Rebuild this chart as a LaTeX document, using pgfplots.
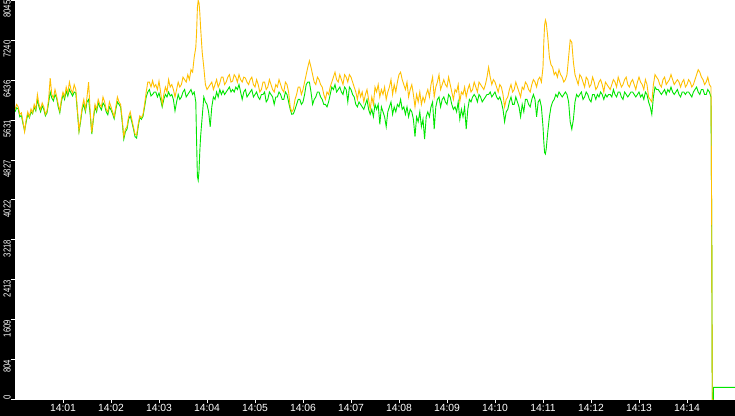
\documentclass[border=0pt]{standalone}
\usepackage{fontspec}
\setmainfont{Liberation Sans}
\newfontfamily\narrowfont[FakeStretch=0.76]{Liberation Sans}
\usepackage{pgfplots}
\usepackage{pgfplotstable}
\pgfplotsset{compat=1.18}
\definecolor{yel}{RGB}{255,192,0}
\definecolor{grn}{RGB}{0,230,0}

% t = seconds after 14:00, y = yellow series, g = green series
\pgfplotstableread{
t y g
0 5850 5800
2 5950 5880
4 5900 5860
6 5750 5700
8 5780 5730
10 5600 5560
12 5400 5420
14 5650 5600
16 5800 5750
18 5700 5680
20 5860 5800
22 5780 5760
24 5950 5900
26 5850 5820
28 6150 6050
30 5950 5900
32 5850 5800
34 5980 5920
36 5900 5850
38 5750 5720
40 5820 5780
42 6050 5980
44 6480 6200
46 6150 6080
48 6080 6020
50 6250 6150
52 6120 6080
54 5950 5900
56 5820 5780
58 6050 6000
60 6200 6150
62 6100 6050
64 6300 6220
66 6180 6120
68 6400 6250
70 6250 6180
72 6180 6120
74 6350 6200
76 6250 6180
78 5850 5800
80 5420 5400
82 5650 5600
84 5900 5850
86 6050 5950
88 5850 5800
90 6100 6000
92 6400 6050
94 5800 5750
96 5380 5350
98 5700 5650
100 5950 5900
102 5850 5800
104 6050 5980
106 5950 5900
108 5900 5840
110 6100 5980
112 6000 5930
114 5850 5800
116 5800 5740
118 6000 5900
120 5900 5840
122 5800 5760
124 5700 5660
126 5900 5850
128 6100 6000
130 6000 5950
132 5950 5900
134 5650 5600
136 5300 5250
138 5450 5400
140 5500 5450
142 5700 5650
144 5800 5720
146 5650 5600
148 5500 5460
150 5350 5300
152 5330 5270
154 5550 5500
156 5720 5690
158 5680 5650
160 5750 5710
162 5950 5900
164 6200 6100
166 6400 6200
168 6400 6250
170 6300 6120
172 6430 6150
174 6300 6200
176 6350 6200
178 6250 6100
180 6420 6180
182 6200 6050
184 5950 5900
186 6150 6050
188 6300 6150
190 6200 6100
192 6450 6200
194 6300 6120
196 6350 6150
198 6250 6050
200 6100 5820
202 6250 6000
204 6400 6150
206 6300 6050
208 6350 6100
210 6500 6200
212 6450 6250
214 6400 6100
216 6550 6150
218 6450 6200
220 6650 6250
222 6600 6150
224 6900 6200
226 7100 6000
227 7400 5200
228 7900 4500
229 8045 4420
230 8000 4600
231 7800 5000
232 7500 5300
234 7000 5700
236 6700 6100
238 6350 6000
240 6250 5950
242 6300 5800
244 6350 5500
246 6400 5900
248 6250 6100
250 6350 6050
252 6450 6200
254 6300 6100
256 6380 6250
258 6500 6150
260 6500 6230
262 6350 6150
264 6400 6200
266 6500 6250
268 6550 6300
270 6400 6200
272 6420 6250
274 6550 6200
276 6500 6300
278 6400 6250
280 6550 6350
282 6450 6200
284 6400 6050
286 6500 6200
288 6480 6250
290 6400 6100
292 6350 6150
294 6450 6200
296 6500 6250
298 6350 6100
300 6300 6150
302 6450 6200
304 6350 6100
306 6200 6050
308 6250 6150
310 6400 6150
312 6400 6200
314 6250 6000
316 6300 6050
318 6450 6200
320 6350 6150
322 6250 6100
324 6200 5950
326 6350 6100
328 6300 6100
330 6450 6200
332 6350 6150
334 6250 6050
336 6200 6050
338 6400 6200
340 6350 6150
342 6200 6000
344 5900 5850
346 5800 5750
348 5850 5760
350 6050 5850
352 6150 5950
354 6300 6050
356 6300 6050
358 6150 5950
360 6250 6000
362 6400 6150
364 6550 6350
366 6700 6400
368 6830 6400
370 6700 6200
372 6550 5950
374 6400 6050
376 6350 6100
378 6500 6200
380 6450 6200
382 6350 6100
384 6300 6050
386 6150 5950
388 6050 5950
390 6200 5900
392 6150 6000
394 6300 6150
396 6400 6300
398 6500 6250
400 6600 6350
402 6450 6200
404 6400 6250
406 6550 6300
408 6450 6200
410 6350 6150
412 6550 6300
414 6500 6250
416 6400 6000
418 6550 6300
420 6500 6250
422 6400 6150
424 6300 6100
426 6200 5950
428 6050 5900
430 6250 6000
432 6100 5950
434 6200 5900
436 6000 5850
438 6150 5950
440 6250 6050
442 6050 5850
444 5850 5750
446 6100 5850
448 5950 5700
450 6300 5950
452 6200 5850
454 6350 5950
456 6100 5550
458 6250 5900
460 6150 5800
462 6300 5700
464 6050 5500
466 6200 5800
468 6300 5900
470 6450 6000
472 6150 5750
474 6350 5900
476 6200 5800
478 6400 5950
480 6550 5900
482 6600 6050
484 6450 5850
486 6350 5900
488 6250 5750
490 6400 5900
492 6100 5700
494 6250 5850
496 6350 5800
498 6150 5650
500 5900 5300
502 6150 5700
504 6000 5600
506 6200 5800
508 5950 5500
510 6100 5650
512 6000 5250
514 6150 5700
516 6250 5800
518 6100 5700
520 6350 5900
522 6500 6000
524 6100 5450
526 6300 5900
528 6400 6050
530 6550 6100
532 6250 5900
534 6350 6050
536 6450 6100
538 6350 6000
540 6300 5950
542 6500 6150
544 6350 6100
546 6200 5950
548 6050 5850
550 6250 5900
552 6200 5800
554 6350 6000
556 6000 5650
558 6200 5850
560 6150 5700
562 6300 5900
564 6100 5450
566 6250 5850
568 6350 6050
570 6200 6000
572 6250 6100
574 6400 6150
576 6300 6100
578 6200 6000
580 6400 6150
582 6350 6100
584 6300 6000
586 6250 6050
588 6350 6100
590 6500 6150
592 6700 6150
594 6500 6200
596 6350 6100
598 6450 6150
600 6400 6200
602 6300 6100
604 6200 6050
606 6350 6100
608 6300 6000
610 6150 5850
612 5900 5600
614 6050 5800
616 6100 5850
618 6250 6000
620 6350 6100
622 6200 5950
624 6250 5950
626 6400 6100
628 6300 6000
630 6200 5900
632 6100 5700
634 6300 5950
636 6250 5800
638 6400 6050
640 6350 6050
642 6250 5950
644 6200 5900
646 6350 6050
648 6450 6150
650 6400 6050
652 6300 5700
654 6450 6000
656 6500 6050
658 6400 5900
660 6700 5500
661 7200 5200
662 7550 4980
663 7650 4950
664 7600 5050
666 7300 5400
668 6900 5700
670 6750 5900
672 6700 6000
674 6550 6050
676 6600 6150
678 6500 6100
680 6650 6200
682 6550 6150
684 6500 6100
686 6400 6150
688 6450 6200
690 6550 6150
692 6900 6000
694 7250 5600
696 7200 5450
698 6800 5650
700 6550 6000
702 6450 6150
704 6350 6100
706 6550 6150
708 6500 6200
710 6400 6050
712 6300 6100
714 6500 6200
716 6450 6150
718 6300 6050
720 6350 6000
722 6500 6150
724 6400 6150
726 6250 6050
728 6300 6150
730 6400 6100
732 6450 6200
734 6350 6150
736 6200 6050
738 6400 6150
740 6350 6100
742 6300 6150
744 6250 6150
746 6350 6100
748 6450 6250
750 6400 6150
752 6300 6100
754 6500 6200
756 6400 6200
758 6300 6100
760 6350 6050
762 6450 6200
764 6500 6150
766 6350 6100
768 6300 6150
770 6400 6200
772 6450 6200
774 6350 6150
776 6250 6100
778 6400 6150
780 6500 6200
782 6400 6100
784 6350 6150
786 6250 6050
788 6450 6200
790 6350 6150
792 6100 6000
794 6050 5900
796 6000 5750
798 6350 6100
800 6550 6300
802 6500 6250
804 6450 6250
806 6350 6200
808 6300 6150
810 6450 6200
812 6500 6250
814 6350 6150
816 6400 6250
818 6450 6200
820 6550 6300
822 6450 6200
824 6350 6150
826 6400 6200
828 6450 6250
830 6400 6150
832 6300 6100
834 6400 6200
836 6450 6200
838 6300 6150
840 6350 6200
842 6450 6200
844 6400 6150
846 6300 6100
848 6350 6200
850 6450 6250
852 6550 6300
854 6650 6200
856 6600 6150
858 6500 6250
860 6450 6250
862 6350 6150
864 6400 6150
866 6500 6250
868 6350 6200
870 6300 6100
871 3100 3100
871.6 0 0
873 0 0
873.1 nan 245
900 nan 245
}\rate

\begin{document}
\begin{tikzpicture}
\fill[black] (-15bp,-16bp) rectangle (720bp,399bp);
\begin{axis}[
  at={(0,0)}, anchor=south west,
  scale only axis, width=720bp, height=399bp,
  xmin=0, xmax=900, ymin=0, ymax=8045,
  axis background/.style={fill=white},
  axis x line*=bottom, axis y line*=left,
  axis line style={draw=none},
  tick align=outside, major tick length=4bp,
  tick style={white, line width=1bp},
  xtick={60,120,...,840},
  xticklabels={14:01,14:02,14:03,14:04,14:05,14:06,14:07,14:08,14:09,14:10,14:11,14:12,14:13,14:14},
  xticklabel style={white, anchor=north, inner sep=0pt, yshift=-1bp, font=\fontsize{10.4}{10.4}\selectfont},
  ytick={804.5,1609,2413.5,3218,4022.5,4827,5631.5,6436,7240.5,8045},
  yticklabels={804,1609,2413,3218,4022,4827,5631,6436,7240,8045},
  yticklabel style={white, rotate=90, anchor=south east, inner sep=0pt, font=\narrowfont\fontsize{10.2}{10.2}\selectfont},
  extra y ticks={0},
  extra y tick labels={0},
  extra y tick style={yticklabel style={anchor=south west}},
]
\addplot[grn, line width=0.9bp] table[x=t, y=g] {\rate};
\addplot[yel, line width=0.9bp] table[x=t, y=y] {\rate};
\end{axis}
\end{tikzpicture}
\end{document}
